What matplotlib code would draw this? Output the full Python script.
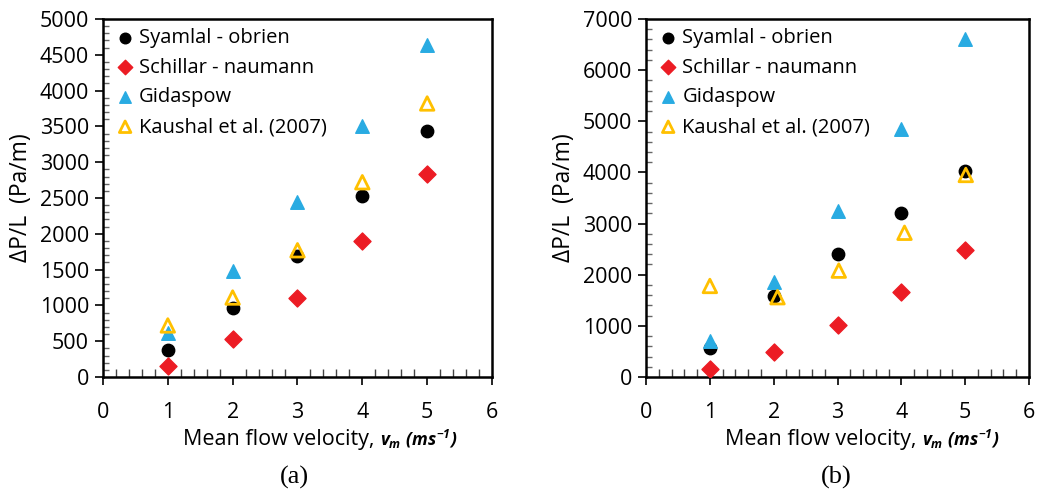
import numpy as np
import matplotlib.pyplot as plt
from matplotlib.ticker import MultipleLocator

plt.rcParams['font.family'] = ['Open Sans', 'DejaVu Sans']
plt.rcParams['mathtext.fontset'] = 'custom'
plt.rcParams['mathtext.rm'] = 'Open Sans:bold:italic'
plt.rcParams['mathtext.it'] = 'Open Sans:bold:italic'

# mean flow velocity (m/s)
vel = [1, 2, 3, 4, 5]
vel_kaushal_b = [1, 2.06, 3.02, 4.05, 5.01]

# pressure drop per length (Pa/m), case (a)
syamlal_a = [380, 970, 1690, 2530, 3440]
schillar_a = [160, 530, 1110, 1900, 2835]
gidaspow_a = [610, 1480, 2450, 3500, 4630]
kaushal_a = [720, 1110, 1770, 2720, 3820]

# pressure drop per length (Pa/m), case (b)
syamlal_b = [570, 1580, 2400, 3200, 4020]
schillar_b = [150, 480, 1010, 1670, 2480]
gidaspow_b = [700, 1850, 3250, 4850, 6600]
kaushal_b = [1780, 1560, 2080, 2820, 3950]

series_names = ['Syamlal - obrien', 'Schillar - naumann', 'Gidaspow', 'Kaushal et al. (2007)']

red = '#ec1c24'
blue = '#29abe2'
yellow = '#ffc000'

fig = plt.figure(figsize=(10.38, 4.93), dpi=100)
ax1 = fig.add_axes([0.0992, 0.2353, 0.3748, 0.7262])
ax2 = fig.add_axes([0.6224, 0.2353, 0.3689, 0.7262])


def draw(ax, xk, s, sc, g, k, ymax, ymajor, yminor):
    ax.scatter(vel, s, s=80, marker='o', color='black', label=series_names[0], zorder=3)
    ax.scatter(vel, sc, s=75, marker='D', color=red, label=series_names[1], zorder=3)
    ax.scatter(vel, g, s=95, marker='^', color=blue, label=series_names[2], zorder=3)
    ax.scatter(xk, k, s=95, marker='^', facecolors='none', edgecolors=yellow,
               linewidths=2, label=series_names[3], zorder=4)
    ax.set_xlim(0, 6)
    ax.set_ylim(0, ymax)
    ax.xaxis.set_major_locator(MultipleLocator(1))
    ax.xaxis.set_minor_locator(MultipleLocator(0.2))
    ax.yaxis.set_major_locator(MultipleLocator(ymajor))
    ax.yaxis.set_minor_locator(MultipleLocator(yminor))
    ax.tick_params(axis='x', which='major', direction='out', length=6, width=1.2,
                   labelsize=15.5, pad=12)
    ax.tick_params(axis='x', which='minor', direction='in', length=6, width=1,
                   color='#444444')
    ax.tick_params(axis='y', which='major', direction='out', length=6, width=1.2,
                   labelsize=15.5, pad=4)
    ax.tick_params(axis='y', which='minor', direction='in', length=4, width=1,
                   color='#666666')
    for sp in ax.spines.values():
        sp.set_linewidth(1.8)
    ax.set_ylabel('ΔP/L  (Pa/m)', fontsize=16.5, labelpad=5)
    ax.legend(loc='upper left', frameon=False, fontsize=14.5, handletextpad=0.05,
              labelspacing=0.48, borderaxespad=0.15, borderpad=0.3,
              handlelength=1.3, markerscale=0.85)
    t = ax.text(0.206, -0.175, 'Mean flow velocity, ', transform=ax.transAxes,
                fontsize=15.5, ha='left', va='center')
    ax.annotate(r'$v_m\ (ms^{-1})$', xy=(1, 0.5), xycoords=t, fontsize=12.5,
                ha='left', va='center')


draw(ax1, vel, syamlal_a, schillar_a, gidaspow_a, kaushal_a, 5000, 500, 100)
draw(ax2, vel_kaushal_b, syamlal_b, schillar_b, gidaspow_b, kaushal_b, 7000, 1000, 200)

fig.text(0.2837, 0.032, '(a)', fontsize=19, family='Liberation Serif', ha='center', va='center')
fig.text(0.806, 0.032, '(b)', fontsize=19, family='Liberation Serif', ha='center', va='center')

plt.savefig('out.png', dpi=100)
